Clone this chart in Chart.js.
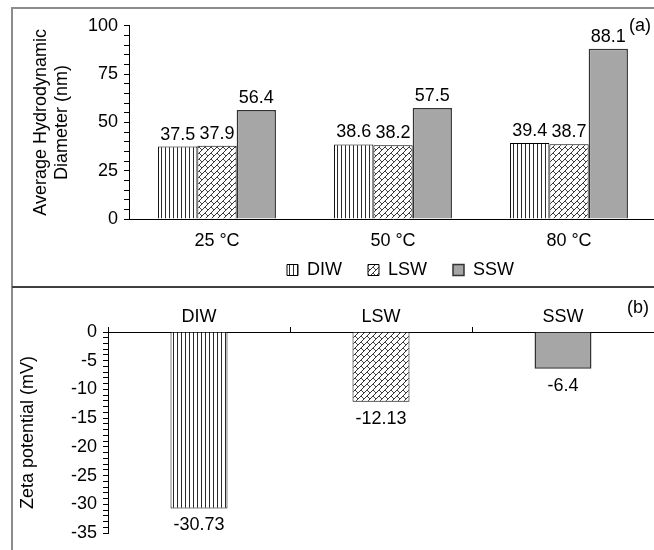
<!DOCTYPE html>
<html>
<head>
<meta charset="utf-8">
<script src="https://cdn.jsdelivr.net/npm/chart.js@4.4.1/dist/chart.umd.min.js"></script>
<style>
  html, body { margin: 0; background: #fff; overflow: hidden; font-family: "Liberation Sans", Arial, sans-serif; }
  #frame { position: absolute; left: 11px; top: 7px; width: 700px; height: 600px;
           border-left: 2px solid #8c8c8c; border-top: 2px solid #8c8c8c; }
  #divider { position: absolute; left: 12px; top: 286px; width: 700px; height: 2px; background: #404040; }
  canvas { position: absolute; }
  .tag { position: absolute; font-size: 18px; color: #000; }
</style>
</head>
<body>
<div id="frame"></div>
<div id="divider"></div>
<canvas id="sizeChart" width="758" height="280" style="left:13px; top:9px;"></canvas>
<canvas id="zetaChart" width="641" height="262" style="left:13px; top:288px;"></canvas>
<div class="tag" style="left:629px; top:15px;">(a)</div>
<div class="tag" style="left:627px; top:297px;">(b)</div>
<script>
const tempLabels = ['25 °C', '50 °C', '80 °C'];
const diwSize = [37.5, 38.6, 39.4];
const lswSize = [37.9, 38.2, 38.7];
const sswSize = [56.4, 57.5, 88.1];

const fluidLabels = ['DIW', 'LSW', 'SSW'];
const zetaValues = [-30.73, -12.13, -6.4];

const FONT = '"Liberation Sans", Arial, sans-serif';
Chart.defaults.font.family = FONT;
Chart.defaults.font.size = 18;
Chart.defaults.color = '#000';

// vertical stripes for DIW
function stripePattern() {
    const c = document.createElement('canvas');
    c.width = 4; c.height = 4;
    const g = c.getContext('2d');
    g.fillStyle = '#fff';
    g.fillRect(0, 0, 4, 4);
    g.fillStyle = '#2a2a2a';
    g.fillRect(0, 0, 1, 4);
    return g.createPattern(c, 'repeat');
}

// diagonal brick pattern for LSW
function brickPattern() {
    const n = 12;
    const c = document.createElement('canvas');
    c.width = n; c.height = n;
    const g = c.getContext('2d');
    g.fillStyle = '#fff';
    g.fillRect(0, 0, n, n);
    g.strokeStyle = '#333';
    g.lineWidth = 0.9;
    const segs = [];
    for (let k = 0; k <= 4; k++) segs.push([-2, 6 * k + 2, 14, 6 * k - 14]);
    segs.push([0, 0, 3, 3], [6, 6, 9, 9], [6, 0, 9, 3], [0, 6, 3, 9]);
    for (const [x1, y1, x2, y2] of segs) {
        for (const dx of [-n, 0, n]) for (const dy of [-n, 0, n]) {
            g.beginPath();
            g.moveTo(x1 + dx, y1 + dy);
            g.lineTo(x2 + dx, y2 + dy);
            g.stroke();
        }
    }
    return g.createPattern(c, 'repeat');
}

const diwFill = stripePattern();
const lswFill = brickPattern();
const sswFill = '#a6a6a6';

const valueLabels = {
    id: 'valueLabels',
    afterDatasetsDraw(chart) {
        const ctx = chart.ctx;
        ctx.save();
        ctx.font = '18px ' + FONT;
        ctx.fillStyle = '#000';
        ctx.textAlign = 'center';
        chart.data.datasets.forEach((ds, i) => {
            chart.getDatasetMeta(i).data.forEach((bar, j) => {
                const v = ds.data[j];
                if (v >= 0) {
                    ctx.textBaseline = 'bottom';
                    ctx.fillText(v.toFixed(1), bar.x, bar.y - 3);
                } else {
                    ctx.textBaseline = 'top';
                    ctx.fillText(String(v), bar.x, bar.y + 8);
                }
            });
        });
        ctx.restore();
    }
};

// legend entries get a little extra room after the text (except the last one)
function spacedLabels(chart) {
    const items = Chart.defaults.plugins.legend.labels.generateLabels(chart);
    return items.map((it, i) => (i < items.length - 1 ? { ...it, text: it.text + '\u2002\u2002' } : it));
}

new Chart(document.getElementById('sizeChart'), {
    type: 'bar',
    data: {
        labels: tempLabels,
        datasets: [
            { label: 'DIW', data: diwSize, backgroundColor: diwFill, borderColor: '#000', borderWidth: 1 },
            { label: 'LSW', data: lswSize, backgroundColor: lswFill, borderColor: '#000', borderWidth: 1 },
            { label: 'SSW', data: sswSize, backgroundColor: sswFill, borderColor: '#333', borderWidth: 1.5 }
        ]
    },
    options: {
        responsive: false,
        animation: false,
        layout: { padding: { left: 17, right: 0, top: 6, bottom: 0 } },
        datasets: { bar: { categoryPercentage: 0.67, barPercentage: 1 } },
        plugins: {
            legend: {
                position: 'bottom',
                labels: { boxWidth: 11, boxHeight: 11, padding: 8, font: { size: 18 }, generateLabels: spacedLabels }
            },
            tooltip: { enabled: false }
        },
        scales: {
            x: {
                afterFit: s => { s.height = 34; },
                grid: { drawOnChartArea: false, drawTicks: false },
                border: { color: '#000' },
                ticks: { padding: 11 }
            },
            y: {
                min: 0, max: 100,
                afterFit: s => { s.width = 99; },
                ticks: {
                    stepSize: 5, autoSkip: false, padding: 6,
                    callback: v => (v % 25 === 0 ? v : '')
                },
                grid: { drawOnChartArea: false, tickLength: 5, color: '#000' },
                border: { color: '#000' },
                title: { display: true, text: ['Average Hydrodynamic', 'Diameter (nm)'], padding: 0, font: { size: 18 } }
            },
            // empty space on the right, the figure is cropped there
            spacer: {
                type: 'linear',
                position: 'right',
                afterFit: s => { s.width = 114; },
                grid: { display: false },
                border: { display: false },
                ticks: { display: false }
            }
        }
    },
    plugins: [valueLabels]
});

new Chart(document.getElementById('zetaChart'), {
    type: 'bar',
    data: {
        labels: fluidLabels,
        datasets: [{
            label: 'Zeta potential',
            data: zetaValues,
            backgroundColor: [diwFill, lswFill, sswFill],
            borderColor: ['#000', '#000', '#333'],
            borderWidth: [1, 1, 1.5]
        }]
    },
    options: {
        responsive: false,
        animation: false,
        layout: { padding: { left: 4, right: 0, top: 0, bottom: 17 } },
        datasets: { bar: { categoryPercentage: 0.313, barPercentage: 1 } },
        plugins: { legend: { display: false }, tooltip: { enabled: false } },
        scales: {
            x: {
                position: 'top',
                afterFit: s => { s.height = 44; },
                grid: { drawOnChartArea: false, tickLength: 5, color: '#000', offset: true },
                border: { color: '#000' },
                ticks: { padding: -1 }
            },
            y: {
                min: -35, max: 0,
                afterFit: s => { s.width = 91; },
                ticks: {
                    stepSize: 1, autoSkip: false, padding: 6,
                    callback: v => (v % 5 === 0 ? v : '')
                },
                grid: { drawOnChartArea: false, tickLength: 5, color: '#000' },
                border: { color: '#000' },
                title: { display: true, text: 'Zeta potential (mV)', padding: 0, font: { size: 18 } }
            }
        }
    },
    plugins: [valueLabels]
});
</script>
</body>
</html>
